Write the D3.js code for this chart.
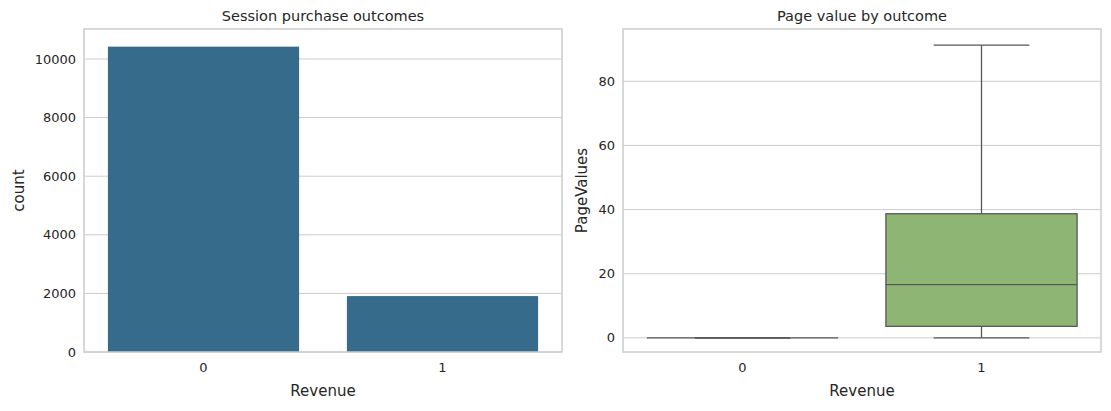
<!DOCTYPE html>
<html><head><meta charset="utf-8">
<script src="https://cdn.jsdelivr.net/npm/d3@7"></script>
<style>body{margin:0;background:#fff}text{font-family:"DejaVu Sans",Arial,sans-serif;fill:#262626}</style>
</head><body><svg id="c" width="1111" height="411"></svg>
<script>
const categories = ['0', '1'];
const counts = [10422, 1908];
const countTicks = [0, 2000, 4000, 6000, 8000, 10000];
// box stats for PageValues: min, q1, median, q3, max
const boxStats = [
    {key: '0', lo: 0, q1: 0, med: 0, q3: 0, hi: 0},
    {key: '1', lo: 0, q1: 3.6, med: 16.6, q3: 38.7, hi: 91.3}
];
const pageTicks = [0, 20, 40, 60, 80];

const svg = d3.select('#c');
const plotTop = 29, plotBottom = 352;

function panel(x0, x1, yDomain, ticks, title, ylabel) {
    const g = svg.append('g');
    const x = d3.scaleBand().domain(categories).range([x0, x1]);
    const y = d3.scaleLinear().domain(yDomain).range([plotBottom, plotTop]);
    g.selectAll('.grid').data(ticks).join('line')
        .attr('x1', x0).attr('x2', x1)
        .attr('y1', d => y(d)).attr('y2', d => y(d))
        .style('stroke', '#cccccc').style('stroke-width', 1);
    g.selectAll('.yt').data(ticks).join('text')
        .attr('x', x0 - 8).attr('y', d => y(d)).attr('dy', '0.35em')
        .attr('text-anchor', 'end').attr('font-size', 13).text(d => d);
    g.selectAll('.xt').data(categories).join('text')
        .attr('x', d => x(d) + x.bandwidth()/2).attr('y', plotBottom + 20)
        .attr('text-anchor', 'middle').attr('font-size', 13).text(d => d);
    g.append('text').attr('x', (x0 + x1)/2).attr('y', plotBottom + 44)
        .attr('text-anchor', 'middle').attr('font-size', 15).text('Revenue');
    g.append('text').attr('x', (x0 + x1)/2).attr('y', plotTop - 8)
        .attr('text-anchor', 'middle').attr('font-size', 14.5).text(title);
    g.append('text').attr('transform', `translate(${x0 - (ylabel === 'count' ? 60 : 36)},${(plotTop + plotBottom)/2}) rotate(-90)`)
        .attr('text-anchor', 'middle').attr('font-size', 15).text(ylabel);
    return {g, x, y, frame: () => g.append('rect')
        .attr('x', x0).attr('y', plotTop).attr('width', x1 - x0).attr('height', plotBottom - plotTop)
        .style('fill', 'none').style('stroke', '#cccccc').style('stroke-width', 1.5)};
}

// Left: bar chart
const L = panel(84, 562, [0, 11024], countTicks, 'Session purchase outcomes', 'count');
const bw = L.x.bandwidth() * 0.8;
L.g.selectAll('.bar').data(counts).join('rect')
    .attr('x', (d, i) => L.x(categories[i]) + L.x.bandwidth()/2 - bw/2)
    .attr('width', bw)
    .attr('y', d => L.y(d)).attr('height', d => L.y(0) - L.y(d))
    .style('fill', '#376b8b');
L.frame();

// Right: box plot
const R = panel(623, 1101, [-4.4, 96.3], pageTicks, 'Page value by outcome', 'PageValues');
const stroke = '#575757';
boxStats.forEach(s => {
    const cx = R.x(s.key) + R.x.bandwidth()/2, w = R.x.bandwidth() * 0.8;
    const g = R.g.append('g').style('stroke', stroke).style('stroke-width', 1.3);
    g.append('line').attr('x1', cx).attr('x2', cx).attr('y1', R.y(s.hi)).attr('y2', R.y(s.q3));
    g.append('line').attr('x1', cx).attr('x2', cx).attr('y1', R.y(s.q1)).attr('y2', R.y(s.lo));
    g.append('rect').attr('x', cx - w/2).attr('width', w)
        .attr('y', R.y(s.q3)).attr('height', R.y(s.q1) - R.y(s.q3))
        .style('fill', '#8fb574');
    [s.lo, s.hi].forEach(v => g.append('line')
        .attr('x1', cx - w/4).attr('x2', cx + w/4).attr('y1', R.y(v)).attr('y2', R.y(v)));
    g.append('line').attr('x1', cx - w/2).attr('x2', cx + w/2)
        .attr('y1', R.y(s.med)).attr('y2', R.y(s.med));
});
R.frame();
</script></body></html>
